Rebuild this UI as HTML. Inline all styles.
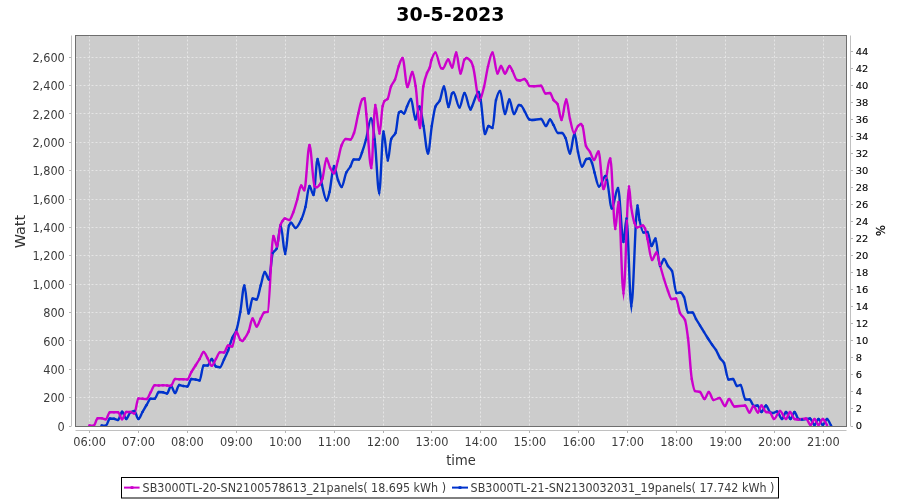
<!DOCTYPE html>
<html><head><meta charset="utf-8"><title>30-5-2023</title>
<style>
html,body{margin:0;padding:0;background:#fff;}
body{width:900px;height:500px;overflow:hidden;}
svg{display:block;will-change:transform;font-family:"DejaVu Sans","Liberation Sans",sans-serif;}
.tl{font-size:12px;fill:#3c3c3c;}
.tr{font-size:9.1px;fill:#000;stroke:#000;stroke-width:0.1px;}
.al{font-size:14px;fill:#333;}
.lg{font-size:12px;fill:#3c3c3c;}
</style></head><body>
<svg width="900" height="500" viewBox="0 0 900 500">
<rect width="900" height="500" fill="#fff"/>

<text x="396.2" y="20.8" font-size="19.8" font-weight="bold" fill="#000" textLength="108.4" lengthAdjust="spacingAndGlyphs">30-5-2023</text>
<rect x="75.5" y="35.5" width="771.0" height="391.0" fill="#cccccc"/>
<path d="M89.50,35.5V426.5M138.50,35.5V426.5M187.50,35.5V426.5M236.50,35.5V426.5M285.50,35.5V426.5M334.50,35.5V426.5M383.50,35.5V426.5M431.50,35.5V426.5M480.50,35.5V426.5M529.50,35.5V426.5M578.50,35.5V426.5M627.50,35.5V426.5M676.50,35.5V426.5M725.50,35.5V426.5M774.50,35.5V426.5M823.50,35.5V426.5M75.5,397.50H846.5M75.5,369.50H846.5M75.5,340.50H846.5M75.5,312.50H846.5M75.5,284.50H846.5M75.5,255.50H846.5M75.5,227.50H846.5M75.5,199.50H846.5M75.5,170.50H846.5M75.5,142.50H846.5M75.5,113.50H846.5M75.5,85.50H846.5M75.5,57.50H846.5" stroke="#fff" stroke-width="0.5" stroke-dasharray="2,2" fill="none"/>
<clipPath id="c"><rect x="75.5" y="35.5" width="771.0" height="391.0"/></clipPath>
<g clip-path="url(#c)" fill="none" stroke-width="2.4" stroke-linejoin="round" stroke-linecap="round">
<path d="M101.7,425.5C103.1,425.6 104.4,425.8 105.8,425.8C107.2,425.8 108.5,418.5 109.9,418.5C111.3,418.5 112.6,418.6 114.0,418.8C115.3,419.0 116.7,420.0 118.0,420.0C119.4,420.0 120.7,411.8 122.1,411.8C123.5,411.8 124.8,419.0 126.2,419.0C127.6,419.0 128.9,413.3 130.3,412.5C131.6,411.7 133.0,411.0 134.3,411.0C135.7,411.0 137.0,419.0 138.4,419.0C139.8,419.0 141.1,414.3 142.5,412.0C143.9,409.7 145.2,407.2 146.6,405.0C148.0,402.8 149.3,398.8 150.7,398.8C152.0,398.8 153.4,398.8 154.7,398.8C156.1,398.8 157.4,392.0 158.8,392.0C160.2,392.0 161.5,392.1 162.9,392.3C164.3,392.5 165.6,393.5 167.0,393.5C168.3,393.5 169.7,386.0 171.0,386.0C172.4,386.0 173.7,393.0 175.1,393.0C176.5,393.0 177.8,385.0 179.2,385.0C180.6,385.0 181.9,385.8 183.3,386.0C184.6,386.2 186.0,386.5 187.3,386.5C188.7,386.5 190.0,379.0 191.4,379.0C192.8,379.0 194.1,379.3 195.5,379.5C196.9,379.7 198.2,380.5 199.6,380.5C200.9,380.5 202.3,365.5 203.6,365.5C205.0,365.5 206.3,365.5 207.7,365.5C209.1,365.5 210.4,359.0 211.8,359.0C213.2,359.0 214.5,366.1 215.9,366.5C217.3,366.9 218.6,367.2 220.0,367.2C221.3,367.2 222.7,362.2 224.0,359.5C225.4,356.7 226.7,354.0 228.1,350.5C229.5,347.0 230.8,341.1 232.2,338.0C233.6,334.9 234.9,334.1 236.3,330.5C237.6,327.0 239.0,319.2 240.3,312.0C241.7,304.6 243.0,285.5 244.4,285.5C245.8,285.5 247.1,313.5 248.5,313.5C249.9,313.5 251.2,298.5 252.6,298.5C253.9,298.5 255.3,299.5 256.6,299.5C258.0,299.5 259.3,290.1 260.7,285.5C262.1,280.9 263.4,272.0 264.8,272.0C266.2,272.0 267.5,279.5 268.9,279.5C270.2,279.5 271.5,255.6 272.8,253.0C274.1,250.4 275.4,251.0 276.7,248.5C278.0,245.9 279.4,225.5 280.7,225.5C282.2,225.5 283.7,254.0 285.2,254.0C286.5,254.0 287.7,228.2 289.0,225.5C289.7,224.1 290.3,222.8 291.0,222.8C292.5,222.8 294.0,228.0 295.5,228.0C297.5,228.0 299.5,223.1 301.5,219.0C302.8,216.3 304.1,212.0 305.4,207.0C306.8,201.8 308.1,186.0 309.5,186.0C310.8,186.0 312.2,195.0 313.5,195.0C314.9,195.0 316.2,159.0 317.6,159.0C319.1,159.0 320.5,178.8 322.0,185.0C323.6,191.7 325.1,200.5 326.7,200.5C327.6,200.5 328.6,195.6 329.5,192.0C331.0,186.2 332.5,166.0 334.0,166.0C335.3,166.0 336.7,176.7 338.0,180.0C339.2,183.0 340.5,187.0 341.7,187.0C343.2,187.0 344.8,175.5 346.3,172.5C347.7,169.8 349.0,168.9 350.4,166.5C351.5,164.6 352.6,159.5 353.7,159.5C355.5,159.5 357.2,159.5 359.0,159.5C360.0,159.5 361.0,155.2 362.0,152.5C363.3,148.9 364.7,144.4 366.0,139.5C367.7,133.4 369.3,118.5 371.0,118.5C372.2,118.5 373.5,130.1 374.7,139.5C376.2,150.9 377.7,192.8 379.2,192.8C380.6,192.8 382.1,131.5 383.5,131.5C384.9,131.5 386.4,160.5 387.8,160.5C388.9,160.5 390.1,141.7 391.2,139.0C392.6,135.6 394.1,136.3 395.5,133.0C396.7,130.3 397.8,113.5 399.0,112.5C399.7,111.9 400.3,111.5 401.0,111.5C402.0,111.5 403.0,113.5 404.0,113.5C405.0,113.5 406.0,108.6 407.0,106.5C408.3,103.7 409.7,99.0 411.0,99.0C412.5,99.0 414.0,119.5 415.5,119.5C416.8,119.5 418.2,106.5 419.5,106.5C420.8,106.5 422.2,118.8 423.5,126.0C425.0,134.1 426.5,153.5 428.0,153.5C429.3,153.5 430.5,133.7 431.8,126.0C433.0,118.5 434.3,109.3 435.5,106.5C436.9,103.3 438.4,103.3 439.8,100.5C441.2,97.7 442.6,86.5 444.0,86.5C445.5,86.5 447.0,107.0 448.5,107.0C449.7,107.0 450.8,94.7 452.0,93.5C452.5,93.0 453.0,92.5 453.5,92.5C455.5,92.5 457.5,107.5 459.5,107.5C461.2,107.5 462.8,93.0 464.5,93.0C466.5,93.0 468.5,109.5 470.5,109.5C471.0,109.5 471.5,107.5 472.0,106.5C474.2,101.9 476.5,92.0 478.7,92.0C479.4,92.0 480.0,96.6 480.7,100.0C482.1,107.3 483.6,134.0 485.0,134.0C486.2,134.0 487.3,126.0 488.5,126.0C489.8,126.0 491.2,128.0 492.5,128.0C493.7,128.0 494.8,104.1 496.0,100.0C497.3,95.3 498.7,91.0 500.0,91.0C501.7,91.0 503.3,114.0 505.0,114.0C506.4,114.0 507.9,99.5 509.3,99.5C510.9,99.5 512.4,114.0 514.0,114.0C515.7,114.0 517.3,105.0 519.0,105.0C519.7,105.0 520.3,105.2 521.0,105.5C522.3,106.0 523.7,109.8 525.0,112.0C526.5,114.5 528.0,119.0 529.5,119.5C530.3,119.8 531.2,120.0 532.0,120.0C535.0,120.0 538.0,119.0 541.0,119.0C542.7,119.0 544.3,126.0 546.0,126.0C547.3,126.0 548.7,119.5 550.0,119.5C551.2,119.5 552.3,123.1 553.5,125.0C555.0,127.5 556.5,133.0 558.0,133.0C559.3,133.0 560.7,133.0 562.0,133.0C563.2,133.0 564.3,135.7 565.5,138.0C567.0,141.0 568.5,153.5 570.0,153.5C571.5,153.5 573.0,133.5 574.5,133.5C575.7,133.5 576.8,147.0 578.0,152.0C579.3,157.8 580.7,166.5 582.0,166.5C583.5,166.5 585.0,159.4 586.5,159.0C587.5,158.7 588.5,158.5 589.5,158.5C590.3,158.5 591.2,161.0 592.0,163.0C592.8,165.0 593.7,169.6 594.5,172.5C596.0,177.7 597.5,186.5 599.0,186.5C601.2,186.5 603.3,176.0 605.5,176.0C606.0,176.0 606.5,178.3 607.0,180.0C608.6,185.5 610.2,208.5 611.8,208.5C613.9,208.5 615.9,188.0 618.0,188.0C619.8,188.0 621.7,242.0 623.5,242.0C624.5,242.0 625.5,218.5 626.5,218.5C628.1,218.5 629.7,306.0 631.3,306.0C633.4,306.0 635.4,205.5 637.5,205.5C638.2,205.5 638.8,217.0 639.5,220.0C640.8,226.1 642.2,232.5 643.5,232.5C644.8,232.5 646.2,232.0 647.5,232.0C648.8,232.0 650.2,246.0 651.5,246.0C652.8,246.0 654.2,238.5 655.5,238.5C657.0,238.5 658.5,266.0 660.0,266.0C661.3,266.0 662.7,259.0 664.0,259.0C665.3,259.0 666.7,264.1 668.0,266.0C669.3,267.9 670.7,268.4 672.0,271.0C673.5,274.0 675.0,293.0 676.5,293.0C677.8,293.0 679.2,292.5 680.5,292.5C681.7,292.5 682.8,294.8 684.0,297.0C685.3,299.5 686.7,312.5 688.0,312.5C689.5,312.5 691.0,312.5 692.5,312.5C693.7,312.5 694.8,317.0 696.0,319.0C697.3,321.3 698.7,323.3 700.0,325.5C701.3,327.7 702.7,329.8 704.0,332.0C705.3,334.2 706.7,336.4 708.0,338.5C709.3,340.6 710.7,342.6 712.0,344.5C713.3,346.4 714.7,347.8 716.0,350.0C717.3,352.2 718.7,355.9 720.0,358.0C721.3,360.1 722.7,360.5 724.0,363.0C725.5,365.8 727.0,379.5 728.5,379.5C730.0,379.5 731.5,379.0 733.0,379.0C734.3,379.0 735.7,386.0 737.0,386.0C738.2,386.0 739.3,385.0 740.5,385.0C742.2,385.0 743.8,399.5 745.5,399.5C746.8,399.5 748.2,399.5 749.5,399.5C751.0,399.5 752.5,406.0 754.0,406.0C755.2,406.0 756.3,405.5 757.5,405.5C758.8,405.5 760.2,412.0 761.5,412.0C763.0,412.0 764.5,405.5 766.0,405.5C767.3,405.5 768.7,411.3 770.0,412.0C771.0,412.5 772.0,413.0 773.0,413.0C774.3,413.0 775.7,411.5 777.0,411.5C778.7,411.5 780.3,419.0 782.0,419.0C783.3,419.0 784.7,412.0 786.0,412.0C787.5,412.0 789.0,419.0 790.5,419.0C791.8,419.0 793.2,412.0 794.5,412.0C795.8,412.0 797.2,418.7 798.5,419.0C799.7,419.3 800.8,419.5 802.0,419.5C804.7,419.5 807.3,418.5 810.0,418.5C811.5,418.5 813.0,425.0 814.5,425.0C815.8,425.0 817.2,419.0 818.5,419.0C819.9,419.0 821.4,425.0 822.8,425.0C824.2,425.0 825.6,419.0 827.0,419.0C828.3,419.0 829.7,423.3 831.0,425.5" stroke="#0033cc"/>
<path d="M89.5,425.5C90.9,425.6 92.2,425.8 93.6,425.8C95.0,425.8 96.3,418.3 97.7,418.3C99.0,418.3 100.4,418.3 101.7,418.3C103.1,418.3 104.4,419.3 105.8,419.3C107.2,419.3 108.5,412.2 109.9,412.2C111.3,412.2 112.6,412.2 114.0,412.2C115.3,412.2 116.7,412.2 118.0,412.2C119.4,412.2 120.7,419.2 122.1,419.2C123.5,419.2 124.8,412.0 126.2,412.0C127.6,412.0 128.9,412.0 130.3,412.0C131.6,412.0 133.0,413.5 134.3,413.5C135.7,413.5 137.0,398.5 138.4,398.5C139.8,398.5 141.1,398.7 142.5,398.8C143.9,398.9 145.2,399.0 146.6,399.0C148.0,399.0 149.3,394.5 150.7,392.2C152.0,389.9 153.4,385.2 154.7,385.2C156.1,385.2 157.4,385.5 158.8,385.5C160.2,385.5 161.5,385.2 162.9,385.2C164.3,385.2 165.6,385.4 167.0,385.5C168.3,385.6 169.7,385.7 171.0,385.7C172.4,385.7 173.7,379.0 175.1,379.0C176.5,379.0 177.8,379.2 179.2,379.2C180.6,379.2 181.9,379.2 183.3,379.2C184.6,379.2 186.0,379.5 187.3,379.5C188.7,379.5 190.0,374.3 191.4,372.0C192.8,369.7 194.1,367.7 195.5,365.5C196.9,363.3 198.2,361.3 199.6,359.0C200.9,356.8 202.3,352.0 203.6,352.0C205.0,352.0 206.3,356.2 207.7,358.5C209.1,360.8 210.4,365.8 211.8,365.8C213.2,365.8 214.5,361.3 215.9,359.0C217.3,356.7 218.6,352.2 220.0,352.2C221.3,352.2 222.7,352.5 224.0,352.5C225.4,352.5 226.7,345.5 228.1,345.5C229.5,345.5 230.8,346.5 232.2,346.5C233.6,346.5 234.9,331.8 236.3,331.8C237.6,331.8 239.0,338.7 240.3,339.8C241.0,340.4 241.7,341.0 242.4,341.0C243.1,341.0 243.7,339.7 244.4,338.8C245.8,337.0 247.1,334.9 248.5,331.8C249.9,328.7 251.2,318.5 252.6,318.5C253.9,318.5 255.3,326.5 256.6,326.5C258.0,326.5 259.3,321.0 260.7,318.5C261.9,316.4 263.0,312.9 264.2,312.5C265.4,312.1 266.5,312.2 267.7,311.8C269.6,311.1 271.5,236.0 273.4,236.0C274.6,236.0 275.8,246.5 277.0,246.5C278.2,246.5 279.3,228.4 280.5,225.0C281.2,223.1 281.8,221.9 282.5,221.0C283.3,219.9 284.0,218.5 284.8,218.5C286.3,218.5 287.8,220.0 289.3,220.0C290.6,220.0 291.9,215.6 293.2,212.5C294.5,209.3 295.9,204.0 297.2,199.5C298.5,195.0 299.9,185.5 301.2,185.5C302.2,185.5 303.3,190.3 304.3,190.3C306.0,190.3 307.8,145.0 309.5,145.0C311.2,145.0 312.9,184.9 314.6,186.3C315.3,186.9 316.0,187.3 316.7,187.3C317.6,187.3 318.6,186.1 319.5,185.0C320.5,183.8 321.5,181.5 322.5,178.5C323.8,174.5 325.2,158.5 326.5,158.5C327.7,158.5 328.8,165.3 330.0,167.5C331.3,170.0 332.7,173.3 334.0,173.3C335.3,173.3 336.5,165.6 337.8,161.0C339.0,156.5 340.3,148.3 341.5,145.5C342.9,142.3 344.3,139.0 345.7,139.0C347.3,139.0 348.9,139.5 350.5,139.5C351.7,139.5 352.8,136.0 354.0,133.0C355.4,129.3 356.9,119.2 358.3,113.5C359.6,108.3 360.9,100.6 362.2,99.5C363.0,98.8 363.8,98.3 364.6,98.3C365.2,98.3 365.7,108.4 366.3,114.0C368.0,130.4 369.6,168.0 371.3,168.0C372.6,168.0 374.0,105.0 375.3,105.0C376.7,105.0 378.1,133.5 379.5,133.5C380.6,133.5 381.6,110.3 382.7,106.0C383.3,103.6 383.9,101.7 384.5,101.0C385.5,99.9 386.5,100.1 387.5,99.0C388.7,97.7 389.8,89.3 391.0,86.5C392.3,83.3 393.7,82.6 395.0,79.5C396.3,76.5 397.5,69.4 398.8,66.0C400.0,62.7 401.3,58.0 402.5,58.0C404.2,58.0 405.8,87.0 407.5,87.0C409.1,87.0 410.7,72.0 412.3,72.0C413.4,72.0 414.5,79.7 415.6,86.0C417.1,94.5 418.5,128.0 420.0,128.0C421.1,128.0 422.2,92.8 423.3,86.5C424.5,79.5 425.8,76.1 427.0,73.0C427.9,70.6 428.9,70.2 429.8,67.5C430.3,66.0 430.8,61.7 431.3,60.3C432.7,56.3 434.0,52.6 435.4,52.6C437.3,52.6 439.3,67.4 441.2,68.2C441.7,68.4 442.3,68.6 442.8,68.6C444.6,68.6 446.4,59.5 448.2,59.5C449.5,59.5 450.9,67.5 452.2,67.5C453.5,67.5 454.9,52.5 456.2,52.5C457.6,52.5 459.1,73.5 460.5,73.5C461.8,73.5 463.2,61.0 464.5,59.5C465.2,58.7 465.8,58.0 466.5,58.0C468.0,58.0 469.5,59.6 471.0,61.5C471.7,62.3 472.3,64.4 473.0,66.5C475.2,73.4 477.3,100.5 479.5,100.5C481.0,100.5 482.5,92.7 484.0,87.0C485.3,81.9 486.7,71.7 488.0,66.5C489.5,60.7 491.0,52.5 492.5,52.5C494.2,52.5 495.8,73.5 497.5,73.5C498.7,73.5 499.8,66.0 501.0,66.0C502.3,66.0 503.7,73.5 505.0,73.5C506.5,73.5 508.0,66.0 509.5,66.0C510.5,66.0 511.5,69.2 512.5,71.0C514.0,73.7 515.5,79.6 517.0,80.0C518.0,80.3 519.0,80.5 520.0,80.5C521.5,80.5 523.0,79.0 524.5,79.0C525.2,79.0 525.8,80.2 526.5,81.0C527.5,82.2 528.5,85.9 529.5,86.0C531.0,86.1 532.5,86.2 534.0,86.2C536.3,86.2 538.7,85.8 541.0,85.8C542.5,85.8 544.0,93.5 545.5,93.5C547.0,93.5 548.5,93.0 550.0,93.0C551.2,93.0 552.3,98.4 553.5,100.0C554.8,101.8 556.2,101.9 557.5,104.0C558.8,106.1 560.2,120.0 561.5,120.0C563.1,120.0 564.6,99.5 566.2,99.5C567.5,99.5 568.7,113.7 570.0,119.0C571.3,124.6 572.7,133.0 574.0,133.0C575.3,133.0 576.7,127.3 578.0,126.0C579.0,125.1 580.0,124.0 581.0,124.0C581.5,124.0 582.0,125.0 582.5,126.0C583.7,128.3 584.8,143.2 586.0,146.0C587.3,149.2 588.7,149.7 590.0,152.0C591.3,154.3 592.7,160.0 594.0,160.0C595.5,160.0 597.0,151.5 598.5,151.5C600.2,151.5 601.8,189.0 603.5,189.0C605.8,189.0 608.0,158.5 610.3,158.5C612.0,158.5 613.6,229.0 615.3,229.0C616.4,229.0 617.4,202.0 618.5,202.0C620.2,202.0 621.8,293.2 623.5,293.2C625.3,293.2 627.2,186.5 629.0,186.5C629.7,186.5 630.3,201.5 631.0,206.0C632.2,213.8 633.3,220.0 634.5,223.0C635.3,225.1 636.2,227.5 637.0,227.5C639.0,227.5 641.0,225.5 643.0,225.5C643.7,225.5 644.3,227.1 645.0,228.5C645.8,230.3 646.7,235.3 647.5,239.0C649.0,245.6 650.5,260.0 652.0,260.0C653.5,260.0 655.0,252.5 656.5,252.5C657.7,252.5 658.8,260.9 660.0,265.0C661.3,269.7 662.7,274.7 664.0,279.0C665.3,283.3 666.7,287.6 668.0,291.0C669.2,294.0 670.3,299.0 671.5,299.0C673.0,299.0 674.5,298.5 676.0,298.5C677.3,298.5 678.7,310.3 680.0,313.0C681.7,316.4 683.3,316.0 685.0,320.0C686.0,322.4 687.0,330.4 688.0,338.0C689.3,347.7 690.5,372.0 691.8,379.0C692.9,384.9 693.9,390.6 695.0,391.0C696.7,391.7 698.3,391.4 700.0,392.0C701.5,392.5 703.0,399.0 704.5,399.0C705.9,399.0 707.4,392.0 708.8,392.0C710.4,392.0 711.9,400.0 713.5,400.0C715.5,400.0 717.5,398.0 719.5,398.0C721.3,398.0 723.2,406.0 725.0,406.0C726.3,406.0 727.7,399.0 729.0,399.0C730.8,399.0 732.7,406.5 734.5,406.5C738.0,406.5 741.5,405.5 745.0,405.5C746.5,405.5 748.0,412.5 749.5,412.5C750.8,412.5 752.2,406.0 753.5,406.0C755.0,406.0 756.5,412.5 758.0,412.5C759.2,412.5 760.3,405.5 761.5,405.5C763.0,405.5 764.5,411.7 766.0,412.0C767.3,412.3 768.7,412.2 770.0,412.5C771.3,412.8 772.7,419.0 774.0,419.0C776.0,419.0 778.0,411.0 780.0,411.0C782.0,411.0 784.0,419.0 786.0,419.0C787.3,419.0 788.7,412.0 790.0,412.0C791.5,412.0 793.0,418.6 794.5,419.0C795.7,419.3 796.8,419.5 798.0,419.5C800.7,419.5 803.3,418.5 806.0,418.5C807.5,418.5 809.0,425.0 810.5,425.0C811.8,425.0 813.2,419.0 814.5,419.0C815.8,419.0 817.2,425.0 818.5,425.0C819.9,425.0 821.4,419.0 822.8,419.0C824.2,419.0 825.6,423.0 827.0,425.0" stroke="#cc00cc"/>
</g>
<path d="M630.2,306.2L632.4,306.2L631.4,314Z M378.2,193L380.2,193L379.4,196.8Z" fill="#0033cc"/>
<path d="M622.5,293.4L624.5,293.4L623.5,301.8Z" fill="#cc00cc"/>
<path clip-path="url(#c)" d="M101.7,425.5h0M105.8,425.8h0M109.9,418.5h0M114.0,418.8h0M118.0,420.0h0M122.1,411.8h0M126.2,419.0h0M130.3,412.5h0M134.3,411.0h0M138.4,419.0h0M142.5,412.0h0M146.6,405.0h0M150.7,398.8h0M154.7,398.8h0M158.8,392.0h0M162.9,392.3h0M167.0,393.5h0M171.0,386.0h0M175.1,393.0h0M179.2,385.0h0M183.3,386.0h0M187.3,386.5h0M191.4,379.0h0M195.5,379.5h0M199.6,380.5h0M203.6,365.5h0M207.7,365.5h0M211.8,359.0h0M215.9,366.5h0M220.0,367.2h0M224.0,359.5h0M228.1,350.5h0M232.2,338.0h0M236.3,330.5h0M240.3,312.0h0M244.4,285.5h0M248.5,313.5h0M252.6,298.5h0M256.6,299.5h0M260.7,285.5h0M264.8,272.0h0M268.9,279.5h0M272.8,253.0h0M276.7,248.5h0M280.7,225.5h0M285.2,254.0h0M289.0,225.5h0M291.0,222.8h0M295.5,228.0h0M301.5,219.0h0M305.4,207.0h0M309.5,186.0h0M313.5,195.0h0M317.6,159.0h0M322.0,185.0h0M326.7,200.5h0M329.5,192.0h0M334.0,166.0h0M338.0,180.0h0M341.7,187.0h0M346.3,172.5h0M350.4,166.5h0M353.7,159.5h0M359.0,159.5h0M362.0,152.5h0M366.0,139.5h0M371.0,118.5h0M374.7,139.5h0M379.2,192.8h0M383.5,131.5h0M387.8,160.5h0M391.2,139.0h0M395.5,133.0h0M399.0,112.5h0M401.0,111.5h0M404.0,113.5h0M407.0,106.5h0M411.0,99.0h0M415.5,119.5h0M419.5,106.5h0M423.5,126.0h0M428.0,153.5h0M431.8,126.0h0M435.5,106.5h0M439.8,100.5h0M444.0,86.5h0M448.5,107.0h0M452.0,93.5h0M453.5,92.5h0M459.5,107.5h0M464.5,93.0h0M470.5,109.5h0M472.0,106.5h0M478.7,92.0h0M480.7,100.0h0M485.0,134.0h0M488.5,126.0h0M492.5,128.0h0M496.0,100.0h0M500.0,91.0h0M505.0,114.0h0M509.3,99.5h0M514.0,114.0h0M519.0,105.0h0M521.0,105.5h0M525.0,112.0h0M529.5,119.5h0M532.0,120.0h0M541.0,119.0h0M546.0,126.0h0M550.0,119.5h0M553.5,125.0h0M558.0,133.0h0M562.0,133.0h0M565.5,138.0h0M570.0,153.5h0M574.5,133.5h0M578.0,152.0h0M582.0,166.5h0M586.5,159.0h0M589.5,158.5h0M592.0,163.0h0M594.5,172.5h0M599.0,186.5h0M605.5,176.0h0M607.0,180.0h0M611.8,208.5h0M618.0,188.0h0M623.5,242.0h0M626.5,218.5h0M631.3,306.0h0M637.5,205.5h0M639.5,220.0h0M643.5,232.5h0M647.5,232.0h0M651.5,246.0h0M655.5,238.5h0M660.0,266.0h0M664.0,259.0h0M668.0,266.0h0M672.0,271.0h0M676.5,293.0h0M680.5,292.5h0M684.0,297.0h0M688.0,312.5h0M692.5,312.5h0M696.0,319.0h0M700.0,325.5h0M704.0,332.0h0M708.0,338.5h0M712.0,344.5h0M716.0,350.0h0M720.0,358.0h0M724.0,363.0h0M728.5,379.5h0M733.0,379.0h0M737.0,386.0h0M740.5,385.0h0M745.5,399.5h0M749.5,399.5h0M754.0,406.0h0M757.5,405.5h0M761.5,412.0h0M766.0,405.5h0M770.0,412.0h0M773.0,413.0h0M777.0,411.5h0M782.0,419.0h0M786.0,412.0h0M790.5,419.0h0M794.5,412.0h0M798.5,419.0h0M802.0,419.5h0M810.0,418.5h0M814.5,425.0h0M818.5,419.0h0M822.8,425.0h0M827.0,419.0h0M831.0,425.5h0" fill="none" stroke="#0033cc" stroke-width="2.6" stroke-linecap="round"/>
<path clip-path="url(#c)" d="M89.5,425.5h0M93.6,425.8h0M97.7,418.3h0M101.7,418.3h0M105.8,419.3h0M109.9,412.2h0M114.0,412.2h0M118.0,412.2h0M122.1,419.2h0M126.2,412.0h0M130.3,412.0h0M134.3,413.5h0M138.4,398.5h0M142.5,398.8h0M146.6,399.0h0M150.7,392.2h0M154.7,385.2h0M158.8,385.5h0M162.9,385.2h0M167.0,385.5h0M171.0,385.7h0M175.1,379.0h0M179.2,379.2h0M183.3,379.2h0M187.3,379.5h0M191.4,372.0h0M195.5,365.5h0M199.6,359.0h0M203.6,352.0h0M207.7,358.5h0M211.8,365.8h0M215.9,359.0h0M220.0,352.2h0M224.0,352.5h0M228.1,345.5h0M232.2,346.5h0M236.3,331.8h0M240.3,339.8h0M242.4,341.0h0M244.4,338.8h0M248.5,331.8h0M252.6,318.5h0M256.6,326.5h0M260.7,318.5h0M264.2,312.5h0M267.7,311.8h0M273.4,236.0h0M277.0,246.5h0M280.5,225.0h0M282.5,221.0h0M284.8,218.5h0M289.3,220.0h0M293.2,212.5h0M297.2,199.5h0M301.2,185.5h0M304.3,190.3h0M309.5,145.0h0M314.6,186.3h0M316.7,187.3h0M319.5,185.0h0M322.5,178.5h0M326.5,158.5h0M330.0,167.5h0M334.0,173.3h0M337.8,161.0h0M341.5,145.5h0M345.7,139.0h0M350.5,139.5h0M354.0,133.0h0M358.3,113.5h0M362.2,99.5h0M364.6,98.3h0M366.3,114.0h0M371.3,168.0h0M375.3,105.0h0M379.5,133.5h0M382.7,106.0h0M384.5,101.0h0M387.5,99.0h0M391.0,86.5h0M395.0,79.5h0M398.8,66.0h0M402.5,58.0h0M407.5,87.0h0M412.3,72.0h0M415.6,86.0h0M420.0,128.0h0M423.3,86.5h0M427.0,73.0h0M429.8,67.5h0M431.3,60.3h0M435.4,52.6h0M441.2,68.2h0M442.8,68.6h0M448.2,59.5h0M452.2,67.5h0M456.2,52.5h0M460.5,73.5h0M464.5,59.5h0M466.5,58.0h0M471.0,61.5h0M473.0,66.5h0M479.5,100.5h0M484.0,87.0h0M488.0,66.5h0M492.5,52.5h0M497.5,73.5h0M501.0,66.0h0M505.0,73.5h0M509.5,66.0h0M512.5,71.0h0M517.0,80.0h0M520.0,80.5h0M524.5,79.0h0M526.5,81.0h0M529.5,86.0h0M534.0,86.2h0M541.0,85.8h0M545.5,93.5h0M550.0,93.0h0M553.5,100.0h0M557.5,104.0h0M561.5,120.0h0M566.2,99.5h0M570.0,119.0h0M574.0,133.0h0M578.0,126.0h0M581.0,124.0h0M582.5,126.0h0M586.0,146.0h0M590.0,152.0h0M594.0,160.0h0M598.5,151.5h0M603.5,189.0h0M610.3,158.5h0M615.3,229.0h0M618.5,202.0h0M623.5,293.2h0M629.0,186.5h0M631.0,206.0h0M634.5,223.0h0M637.0,227.5h0M643.0,225.5h0M645.0,228.5h0M647.5,239.0h0M652.0,260.0h0M656.5,252.5h0M660.0,265.0h0M664.0,279.0h0M668.0,291.0h0M671.5,299.0h0M676.0,298.5h0M680.0,313.0h0M685.0,320.0h0M688.0,338.0h0M691.8,379.0h0M695.0,391.0h0M700.0,392.0h0M704.5,399.0h0M708.8,392.0h0M713.5,400.0h0M719.5,398.0h0M725.0,406.0h0M729.0,399.0h0M734.5,406.5h0M745.0,405.5h0M749.5,412.5h0M753.5,406.0h0M758.0,412.5h0M761.5,405.5h0M766.0,412.0h0M770.0,412.5h0M774.0,419.0h0M780.0,411.0h0M786.0,419.0h0M790.0,412.0h0M794.5,419.0h0M798.0,419.5h0M806.0,418.5h0M810.5,425.0h0M814.5,419.0h0M818.5,425.0h0M822.8,419.0h0M827.0,425.0h0" fill="none" stroke="#cc00cc" stroke-width="2.6" stroke-linecap="round"/>
<rect x="75.5" y="35.5" width="771.0" height="391.0" fill="none" stroke="#6e6e6e" stroke-width="1"/>
<path d="M71.5,35.5V426.5M850.5,35.5V426.5M75.5,430.5H846.5" stroke="#c0c0c0" stroke-width="1" fill="none"/>
<path d="M69,426.50H71M69,397.50H71M69,369.50H71M69,340.50H71M69,312.50H71M69,284.50H71M69,255.50H71M69,227.50H71M69,199.50H71M69,170.50H71M69,142.50H71M69,113.50H71M69,85.50H71M69,57.50H71M851,426.50H853M851,408.50H853M851,391.50H853M851,374.50H853M851,357.50H853M851,340.50H853M851,323.50H853M851,306.50H853M851,289.50H853M851,272.50H853M851,255.50H853M851,238.50H853M851,221.50H853M851,204.50H853M851,187.50H853M851,170.50H853M851,153.50H853M851,136.50H853M851,119.50H853M851,102.50H853M851,85.50H853M851,68.50H853M851,51.50H853M89.50,431V433M138.50,431V433M187.50,431V433M236.50,431V433M285.50,431V433M334.50,431V433M383.50,431V433M431.50,431V433M480.50,431V433M529.50,431V433M578.50,431V433M627.50,431V433M676.50,431V433M725.50,431V433M774.50,431V433M823.50,431V433" stroke="#b4b4b4" stroke-width="1" fill="none"/>
<text class="tl" transform="translate(64.8,430.6) scale(0.945,1)" text-anchor="end">0</text>
<text class="tl" transform="translate(64.8,402.2) scale(0.945,1)" text-anchor="end">200</text>
<text class="tl" transform="translate(64.8,373.9) scale(0.945,1)" text-anchor="end">400</text>
<text class="tl" transform="translate(64.8,345.5) scale(0.945,1)" text-anchor="end">600</text>
<text class="tl" transform="translate(64.8,317.1) scale(0.945,1)" text-anchor="end">800</text>
<text class="tl" transform="translate(64.8,288.7) scale(0.945,1)" text-anchor="end">1,000</text>
<text class="tl" transform="translate(64.8,260.4) scale(0.945,1)" text-anchor="end">1,200</text>
<text class="tl" transform="translate(64.8,232.0) scale(0.945,1)" text-anchor="end">1,400</text>
<text class="tl" transform="translate(64.8,203.6) scale(0.945,1)" text-anchor="end">1,600</text>
<text class="tl" transform="translate(64.8,175.2) scale(0.945,1)" text-anchor="end">1,800</text>
<text class="tl" transform="translate(64.8,146.9) scale(0.945,1)" text-anchor="end">2,000</text>
<text class="tl" transform="translate(64.8,118.5) scale(0.945,1)" text-anchor="end">2,200</text>
<text class="tl" transform="translate(64.8,90.1) scale(0.945,1)" text-anchor="end">2,400</text>
<text class="tl" transform="translate(64.8,61.7) scale(0.945,1)" text-anchor="end">2,600</text>
<text class="tr" transform="translate(855.7,429.4) scale(1.09,1)">0</text>
<text class="tr" transform="translate(855.7,412.4) scale(1.09,1)">2</text>
<text class="tr" transform="translate(855.7,395.3) scale(1.09,1)">4</text>
<text class="tr" transform="translate(855.7,378.3) scale(1.09,1)">6</text>
<text class="tr" transform="translate(855.7,361.2) scale(1.09,1)">8</text>
<text class="tr" transform="translate(855.7,344.2) scale(1.09,1)">10</text>
<text class="tr" transform="translate(855.7,327.2) scale(1.09,1)">12</text>
<text class="tr" transform="translate(855.7,310.1) scale(1.09,1)">14</text>
<text class="tr" transform="translate(855.7,293.1) scale(1.09,1)">16</text>
<text class="tr" transform="translate(855.7,276.0) scale(1.09,1)">18</text>
<text class="tr" transform="translate(855.7,259.0) scale(1.09,1)">20</text>
<text class="tr" transform="translate(855.7,242.0) scale(1.09,1)">22</text>
<text class="tr" transform="translate(855.7,224.9) scale(1.09,1)">24</text>
<text class="tr" transform="translate(855.7,207.9) scale(1.09,1)">26</text>
<text class="tr" transform="translate(855.7,190.8) scale(1.09,1)">28</text>
<text class="tr" transform="translate(855.7,173.8) scale(1.09,1)">30</text>
<text class="tr" transform="translate(855.7,156.8) scale(1.09,1)">32</text>
<text class="tr" transform="translate(855.7,139.7) scale(1.09,1)">34</text>
<text class="tr" transform="translate(855.7,122.7) scale(1.09,1)">36</text>
<text class="tr" transform="translate(855.7,105.6) scale(1.09,1)">38</text>
<text class="tr" transform="translate(855.7,88.6) scale(1.09,1)">40</text>
<text class="tr" transform="translate(855.7,71.6) scale(1.09,1)">42</text>
<text class="tr" transform="translate(855.7,54.5) scale(1.09,1)">44</text>
<text class="tl" transform="translate(89.6,446) scale(0.95,1)" text-anchor="middle">06:00</text>
<text class="tl" transform="translate(138.5,446) scale(0.95,1)" text-anchor="middle">07:00</text>
<text class="tl" transform="translate(187.4,446) scale(0.95,1)" text-anchor="middle">08:00</text>
<text class="tl" transform="translate(236.4,446) scale(0.95,1)" text-anchor="middle">09:00</text>
<text class="tl" transform="translate(285.3,446) scale(0.95,1)" text-anchor="middle">10:00</text>
<text class="tl" transform="translate(334.2,446) scale(0.95,1)" text-anchor="middle">11:00</text>
<text class="tl" transform="translate(383.1,446) scale(0.95,1)" text-anchor="middle">12:00</text>
<text class="tl" transform="translate(432.0,446) scale(0.95,1)" text-anchor="middle">13:00</text>
<text class="tl" transform="translate(481.0,446) scale(0.95,1)" text-anchor="middle">14:00</text>
<text class="tl" transform="translate(529.9,446) scale(0.95,1)" text-anchor="middle">15:00</text>
<text class="tl" transform="translate(578.8,446) scale(0.95,1)" text-anchor="middle">16:00</text>
<text class="tl" transform="translate(627.7,446) scale(0.95,1)" text-anchor="middle">17:00</text>
<text class="tl" transform="translate(676.6,446) scale(0.95,1)" text-anchor="middle">18:00</text>
<text class="tl" transform="translate(725.6,446) scale(0.95,1)" text-anchor="middle">19:00</text>
<text class="tl" transform="translate(774.5,446) scale(0.95,1)" text-anchor="middle">20:00</text>
<text class="tl" transform="translate(823.4,446) scale(0.95,1)" text-anchor="middle">21:00</text>
<text class="al" transform="translate(460.9,465) scale(0.935,1)" text-anchor="middle">time</text>
<text class="al" transform="translate(25,231.6) rotate(-90) scale(1.03,1)" text-anchor="middle">Watt</text>
<text class="al" transform="translate(885,230.5) rotate(-90)" text-anchor="middle" style="font-size:11.5px;fill:#000;stroke:#000;stroke-width:0.25px">%</text>
<rect x="121.5" y="477.5" width="657" height="20.5" fill="#fff" stroke="#000" stroke-width="1"/>
<path d="M124,487.6H139.6" stroke="#cc00cc" stroke-width="2"/>
<path d="M452,487.6H468" stroke="#0033cc" stroke-width="2"/>
<rect x="130.6" y="486.2" width="2.8" height="2.8" fill="#cc00cc"/><rect x="458.6" y="486.2" width="2.8" height="2.8" fill="#0033cc"/>
<text class="lg" x="142.6" y="492" textLength="303.4" lengthAdjust="spacingAndGlyphs">SB3000TL-20-SN2100578613_21panels( 18.695 kWh )</text>
<text class="lg" x="470.6" y="492" textLength="303.8" lengthAdjust="spacingAndGlyphs">SB3000TL-21-SN2130032031_19panels( 17.742 kWh )</text>
</svg></body></html>
